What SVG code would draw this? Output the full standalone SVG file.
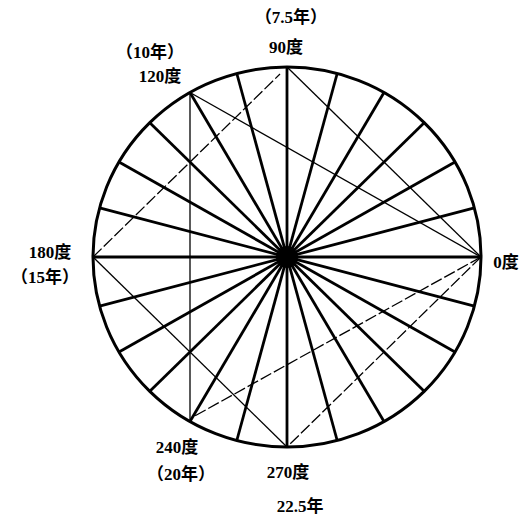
<svg xmlns="http://www.w3.org/2000/svg" width="531" height="522" viewBox="0 0 531 522">
<style>
.rim{fill:none;stroke:#000;stroke-width:3}
.spoke{stroke:#000;stroke-width:2.8;stroke-linecap:butt}
.chord{stroke:#000;stroke-width:1.3;fill:none}
.dash{stroke-dasharray:12 3}
.lbl{font-family:"Liberation Serif","Noto Sans CJK SC",serif;font-size:17px;font-weight:bold;fill:#000;text-anchor:middle}
</style>
<rect width="531" height="522" fill="#fff"/>
<g id="wheel">
<ellipse class="rim" cx="287" cy="257" rx="194" ry="190"/>
<g id="spokes">
<line class="spoke" x1="481" y1="257" x2="93" y2="257"/>
<line class="spoke" x1="474.4" y1="207.8" x2="99.6" y2="306.2"/>
<line class="spoke" x1="455" y1="162" x2="119" y2="352"/>
<line class="spoke" x1="424.2" y1="122.7" x2="149.8" y2="391.3"/>
<line class="spoke" x1="384" y1="92.5" x2="190" y2="421.5"/>
<line class="spoke" x1="337.2" y1="73.5" x2="236.8" y2="440.5"/>
<line class="spoke" x1="287" y1="67" x2="287" y2="447"/>
<line class="spoke" x1="236.8" y1="73.5" x2="337.2" y2="440.5"/>
<line class="spoke" x1="190" y1="92.5" x2="384" y2="421.5"/>
<line class="spoke" x1="149.8" y1="122.7" x2="424.2" y2="391.3"/>
<line class="spoke" x1="119" y1="162" x2="455" y2="352"/>
<line class="spoke" x1="99.6" y1="207.8" x2="474.4" y2="306.2"/>
</g>
<circle id="hub" cx="287" cy="257" r="11" fill="#000"/>
</g>
<g id="connectors">
<line class="chord" x1="287" y1="67" x2="481" y2="257"/>
<line class="chord dash" x1="93" y1="257" x2="280" y2="74"/>
<line class="chord" x1="93" y1="257" x2="287" y2="447"/>
<line class="chord dash" x1="481" y1="257" x2="287" y2="447"/>
<line class="chord" x1="190" y1="92.5" x2="481" y2="257"/>
<line class="chord" x1="190" y1="92.5" x2="190" y2="421.5"/>
<line class="chord dash" x1="481" y1="257" x2="193" y2="417"/>
</g>
<g id="labels">
<text class="lbl" x="291" y="23">（7.5年）</text>
<text class="lbl" x="286" y="53">90度</text>
<text class="lbl" x="150" y="58">（10年）</text>
<text class="lbl" x="160" y="82">120度</text>
<text class="lbl" x="50" y="258">180度</text>
<text class="lbl" x="45" y="283">（15年）</text>
<text class="lbl" x="506" y="268">0度</text>
<text class="lbl" x="177" y="453">240度</text>
<text class="lbl" x="181" y="480">（20年）</text>
<text class="lbl" x="288" y="478">270度</text>
<text class="lbl" x="300" y="512">22.5年</text>
</g>
</svg>
